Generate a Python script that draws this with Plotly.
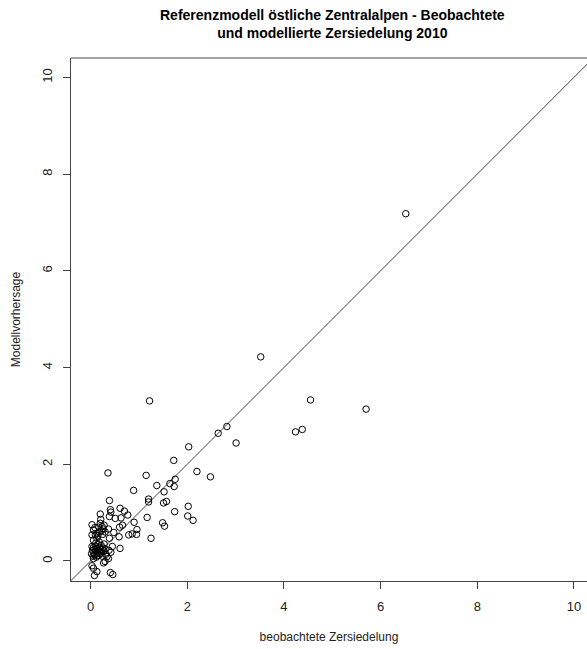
import plotly.graph_objects as go

# observed (x) and modelled (y) values
obs = [6.52, 3.52, 4.55, 5.70, 4.24, 4.38, 2.82, 2.64, 3.01, 1.22, 2.03, 1.72, 2.20, 2.48,
       0.36, 1.15, 1.75, 1.73, 1.64, 1.37, 0.89, 1.52, 0.39, 1.20, 1.20, 1.57, 1.51, 0.41,
       0.42, 0.61, 0.70, 0.77, 0.20, 0.39, 0.51, 0.63, 1.17, 1.74, 2.02, 2.01, 2.12, 0.90,
       1.49, 1.53, 0.96, 1.25, 0.61, 0.60, 0.66, 0.79, 0.86, 0.95, 0.59, 0.37, 0.39, 0.48,
       0.03, 0.06, 0.10, 0.13, 0.17, 0.20, 0.24, 0.13, 0.06, 0.03, 0.22, 0.26, 0.18, 0.09,
       0.28, 0.15, 0.25, 0.21, 0.30,
       0.02, 0.04, 0.05, 0.06, 0.07, 0.08, 0.09, 0.10, 0.11, 0.12, 0.13, 0.14, 0.15, 0.16,
       0.17, 0.18, 0.19, 0.20, 0.21, 0.22, 0.23, 0.24, 0.25, 0.27, 0.28, 0.30, 0.03, 0.11,
       0.06, 0.14, 0.18, 0.32, 0.34, 0.38, 0.45, 0.42,
       0.30, 0.27, 0.03, 0.06, 0.13, 0.08, 0.41, 0.46, 0.37]
pred = [7.18, 4.22, 3.33, 3.14, 2.67, 2.72, 2.78, 2.64, 2.44, 3.31, 2.36, 2.08, 1.85, 1.74,
        1.82, 1.77, 1.69, 1.54, 1.60, 1.56, 1.46, 1.43, 1.25, 1.28, 1.22, 1.23, 1.20, 1.06,
        1.01, 1.09, 1.03, 0.95, 0.97, 0.92, 0.88, 0.89, 0.90, 1.02, 1.13, 0.93, 0.84, 0.80,
        0.79, 0.72, 0.65, 0.47, 0.26, 0.70, 0.74, 0.54, 0.56, 0.55, 0.50, 0.66, 0.47, 0.59,
        0.75, 0.64, 0.54, 0.57, 0.70, 0.78, 0.71, 0.47, 0.43, 0.54, 0.62, 0.66, 0.60, 0.69,
        0.74, 0.52, 0.55, 0.86, 0.60,
        0.15, 0.22, 0.10, 0.28, 0.18, 0.13, 0.24, 0.31, 0.20, 0.08, 0.16, 0.26, 0.22, 0.34,
        0.12, 0.19, 0.28, 0.15, 0.24, 0.32, 0.19, 0.10, 0.27, 0.21, 0.35, 0.25, 0.30, 0.37,
        0.05, 0.11, 0.39, 0.14, 0.09, 0.22, 0.30, 0.18,
        -0.01, -0.04, -0.10, -0.15, -0.22, -0.30, -0.24, -0.28, 0.05]

diag = [-1, 11]
tick_vals = [0, 2, 4, 6, 8, 10]
tick_text = ["0", "2", "4", "6", "8", "10"]
title_text = "<b>Referenzmodell östliche Zentralalpen - Beobachtete<br>und modellierte Zersiedelung 2010</b>"

FONT = "Liberation Sans, Arial, sans-serif"

fig = go.Figure()
fig.add_trace(go.Scatter(x=diag, y=diag, mode="lines",
                         line=dict(color="#444444", width=1), hoverinfo="skip"))
fig.add_trace(go.Scatter(x=obs, y=pred, mode="markers",
                         marker=dict(symbol="circle-open", size=6.5,
                                     color="black", line=dict(width=1, color="black"))))

fig.update_layout(
    width=587, height=649,
    margin=dict(l=71, r=0, t=58, b=68),
    plot_bgcolor="white", paper_bgcolor="white",
    showlegend=False,
    font=dict(family=FONT, size=12, color="#222222"),
    annotations=[dict(text=title_text, xref="paper", yref="paper",
                      x=(332 - 71) / 516, y=1 + (58 - 5) / 523,
                      xanchor="center", yanchor="top", showarrow=False,
                      align="center",
                      font=dict(family=FONT, size=14, color="black"))],
    xaxis=dict(range=[-0.405, 10.27], tickvals=tick_vals, ticktext=tick_text,
               showgrid=False, zeroline=False, showline=True, linecolor="#444444",
               linewidth=1, ticks="outside", ticklen=7, tickcolor="#444444",
               ticklabelstandoff=6, tickfont=dict(size=13),
               title=dict(text="beobachtete Zersiedelung", standoff=20,
                          font=dict(size=12))),
    yaxis=dict(range=[-0.414, 10.40], tickvals=tick_vals, ticktext=tick_text,
               showgrid=False, zeroline=False, showline=True, linecolor="#444444",
               linewidth=1, ticks="outside", ticklen=7, tickcolor="#444444",
               tickangle=-90, ticklabelstandoff=6, tickfont=dict(size=13),
               title=dict(text="Modellvorhersage", standoff=16,
                          font=dict(size=12))),
    shapes=[dict(type="line", xref="paper", yref="paper", x0=0, x1=1, y0=1, y1=1,
                 line=dict(color="#444444", width=1))],
)

fig.write_html("out.html")
